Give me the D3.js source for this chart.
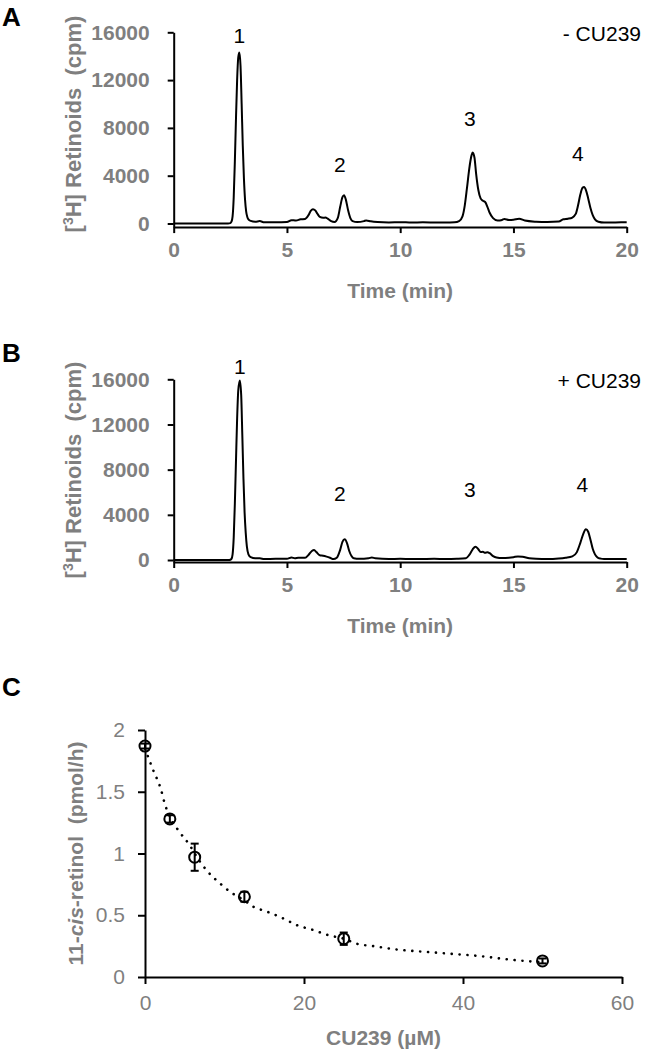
<!DOCTYPE html>
<html><head><meta charset="utf-8">
<script src="https://cdn.jsdelivr.net/npm/d3@7"></script>
<style>
body{margin:0;background:#fff;}
svg{display:block;}
text{font-family:"Liberation Sans",Arial,Helvetica,sans-serif;}
</style></head><body>
<svg id="c" width="646" height="1050"></svg>
<script>
// ---------- Data: panel A (- CU239) ----------
const timeA = [0,0.5,1,1.5,2,2.4,2.5,2.55,2.6,2.65,2.7,2.75,2.8,2.85,2.9,2.95,3.0,3.05,3.1,3.15,3.2,3.25,3.3,3.4,3.6,3.8,4.0,4.5,5.0,5.2,5.4,5.6,5.8,5.95,6.05,6.15,6.25,6.35,6.45,6.6,6.7,6.8,6.95,7.1,7.25,7.35,7.45,7.52,7.6,7.7,7.8,7.9,8.1,8.4,8.5,8.7,9.0,9.5,10,10.5,11,11.5,12,12.4,12.6,12.75,12.85,12.95,13.05,13.15,13.2,13.28,13.35,13.45,13.55,13.65,13.75,13.85,13.95,14.1,14.3,14.5,14.6,14.8,15.0,15.25,15.5,16,16.5,17,17.2,17.4,17.6,17.75,17.85,17.95,18.05,18.12,18.2,18.3,18.4,18.5,18.6,18.75,19,19.5,20];
const cpmA  = [0,0,0,0,0,0,30,150,600,2200,5200,8800,12000,13900,14300,13200,10000,6500,3800,2000,1000,550,350,220,150,200,100,100,120,280,250,350,380,700,1050,1200,1100,800,550,480,500,400,200,130,500,1400,2200,2370,2000,1100,450,200,120,200,260,180,120,90,110,80,100,90,80,100,200,600,1500,3000,4600,5700,5940,5500,4200,2800,2100,1900,1800,1400,900,450,250,300,380,300,320,400,250,150,120,160,350,400,500,800,1500,2400,3000,3060,2800,2100,1300,700,350,150,80,90,100];
// ---------- Data: panel B (+ CU239) ----------
const timeB = [0,0.5,1,1.5,2,2.45,2.5,2.55,2.6,2.65,2.7,2.75,2.8,2.85,2.92,2.98,3.03,3.08,3.13,3.18,3.23,3.3,3.4,3.6,3.8,4.0,4.5,5.0,5.2,5.35,5.5,5.8,5.95,6.1,6.2,6.3,6.45,6.6,6.75,6.9,7.05,7.2,7.35,7.45,7.55,7.65,7.75,7.85,7.95,8.2,8.6,8.75,8.9,9.5,10,10.5,11,11.5,12,12.5,12.9,13.05,13.2,13.32,13.45,13.55,13.65,13.75,13.85,13.95,14.1,14.25,14.5,14.8,15.0,15.2,15.4,15.7,16,16.5,17,17.3,17.6,17.8,17.95,18.08,18.2,18.3,18.4,18.5,18.6,18.7,18.85,19,19.5,20];
const cpmB  = [0,0,0,0,0,0,20,100,500,2000,5000,8800,12500,15000,15900,14600,11000,7200,4200,2400,1200,500,250,150,150,80,100,100,220,150,200,200,450,800,880,700,420,380,300,200,80,200,900,1600,1830,1500,800,350,150,100,150,230,150,80,100,80,90,100,80,100,150,450,950,1180,950,700,720,650,680,600,350,220,170,200,250,320,280,150,100,80,130,200,320,700,1500,2300,2720,2500,1800,1000,500,250,120,80,90,80];
// ---------- Axis ticks & labels ----------
const timeTicks = [0,5,10,15,20];
const cpmTicks = [0,4000,8000,12000,16000];
const peakNames = ["1","2","3","4"];
const peakLabelTimeA = [2.9,7.34,13.08,17.84];
const peakLabelCpmA  = [15770,4980,8800,5870];
const peakLabelTimeB = [2.92,7.34,13.08,18.04];
const peakLabelCpmB  = [17115,5905,6260,6700];
const conditionLabels = ["- CU239","+ CU239"];
// ---------- Data: panel C ----------
const conc = [0,3.125,6.25,12.5,25,50];
const rate = [1.87,1.28,0.97,0.65,0.31,0.13];
const rateErr = [0.02,0.03,0.11,0.04,0.05,0.02];
const fitConc = [0,1,2,2.5,3.1,4.4,5.7,6.25,7.8,9.4,10.7,12.5,13.6,15.3,17.2,19.1,21.2,23,25,26.6,28.7,32,35,38,42,46,50];
const fitRate = [1.85,1.68,1.52,1.40,1.30,1.17,1.06,1.00,0.86,0.76,0.69,0.62,0.57,0.53,0.48,0.42,0.38,0.34,0.31,0.27,0.25,0.22,0.205,0.19,0.17,0.14,0.12];
const concTicks = [0,20,40,60];
const rateTicks = [0,0.5,1,1.5,2];

const GRAY = "#7f7f7f";
const svg = d3.select("#c");

function styleAxis(g, bold, size){
  g.selectAll(".domain").attr("stroke","#000").attr("stroke-width",2);
  g.selectAll(".tick line").attr("stroke","#000").attr("stroke-width",2);
  g.selectAll(".tick text").attr("fill",GRAY).attr("font-size",size)
   .attr("font-weight",bold?"bold":"normal")
   .attr("font-family","'Liberation Sans',Arial,sans-serif");
}

function chromPanel(opt){
  const x = d3.scaleLinear().domain([0,20]).range([173.7,626.7]);
  const y = d3.scaleLinear().domain([0,16000]).range([opt.y0,opt.y16]);
  const axisY = y(opt.axisCpm);
  const g = svg.append("g");
  // y axis
  const ya = g.append("g").attr("transform",`translate(${x(0)},0)`)
    .call(d3.axisLeft(y.copy().domain([opt.axisCpm,16000]).range([axisY,y(16000)]))
      .tickValues(cpmTicks).tickSize(6).tickSizeOuter(0).tickPadding(18).tickFormat(d3.format("d")));
  styleAxis(ya,true,21);
  // x axis
  const xa = g.append("g").attr("transform",`translate(0,${axisY})`)
    .call(d3.axisBottom(x).tickValues(timeTicks).tickSize(6).tickSizeOuter(0).tickPadding(9));
  styleAxis(xa,true,21);
  // trace
  const line = d3.line().x(d=>x(d[0])).y(d=>y(d[1])).curve(d3.curveMonotoneX);
  g.append("path").datum(opt.t.map((t,i)=>[t,opt.v[i]]))
    .attr("d",line).attr("fill","none").attr("stroke","#000").attr("stroke-width",2).attr("stroke-linejoin","round");
  // peak labels
  g.selectAll("text.pk").data(peakNames).join("text").attr("class","pk")
    .attr("x",(d,i)=>x(opt.lt[i])).attr("y",(d,i)=>y(opt.lc[i])).attr("dy","0.36em")
    .attr("text-anchor","middle").attr("font-size",21).attr("fill","#000").text(d=>d);
  // condition label
  g.append("text").attr("x",641).attr("y",opt.condY).attr("dy","0.36em")
    .attr("text-anchor","end").attr("font-size",21).attr("fill","#000").text(opt.cond);
  // axis titles
  g.append("text").attr("x",(x(0)+x(20))/2).attr("y",opt.titleY).attr("dy","0.36em")
    .attr("text-anchor","middle").attr("font-size",21).attr("font-weight","bold").attr("fill",GRAY).text("Time (min)");
  const yt = g.append("text").attr("transform",`translate(81,${opt.ytitleY}) rotate(-90)`)
    .attr("text-anchor","middle").attr("font-size",22).attr("font-weight","bold").attr("fill",GRAY);
  yt.append("tspan").text("[");
  yt.append("tspan").attr("font-size",14).attr("dy",-8).text("3");
  yt.append("tspan").attr("dy",8).text("H] Retinoids\u00a0 (cpm)");
  // panel letter
  svg.append("text").attr("x",2).attr("y",opt.letterY).attr("font-size",26).attr("font-weight","bold").attr("fill","#000").text(opt.letter);
}

chromPanel({t:timeA,v:cpmA,y0:223.5,y16:32.3,axisCpm:-300,lt:peakLabelTimeA,lc:peakLabelCpmA,
  cond:conditionLabels[0],condY:33,titleY:290,ytitleY:124,letter:"A",letterY:26});
chromPanel({t:timeB,v:cpmB,y0:560,y16:379.3,axisCpm:-180,lt:peakLabelTimeB,lc:peakLabelCpmB,
  cond:conditionLabels[1],condY:380,titleY:625,ytitleY:470,letter:"B",letterY:362});

// ---------- Panel C ----------
(function(){
  const x = d3.scaleLinear().domain([0,60]).range([145,622]);
  const y = d3.scaleLinear().domain([0,2]).range([977,730]);
  const g = svg.append("g");
  const ya = g.append("g").attr("transform",`translate(${x(0)},0)`)
    .call(d3.axisLeft(y).tickValues(rateTicks).tickSize(7).tickSizeOuter(0).tickPadding(13).tickFormat(d=>String(d)));
  styleAxis(ya,false,21);
  const xa = g.append("g").attr("transform",`translate(0,${y(0)})`)
    .call(d3.axisBottom(x).tickValues(concTicks).tickSize(7).tickSizeOuter(0).tickPadding(11));
  styleAxis(xa,false,21);
  // fit curve (dotted)
  const line = d3.line().x(d=>x(d[0])).y(d=>y(d[1])).curve(d3.curveMonotoneX);
  g.append("path").datum(fitConc.map((c,i)=>[c,fitRate[i]])).attr("d",line)
    .attr("fill","none").attr("stroke","#000").attr("stroke-width",2.6)
    .attr("stroke-linecap","round").attr("stroke-dasharray","0.1,7.8");
  // error bars
  const pts = conc.map((c,i)=>({c,r:rate[i],e:rateErr[i]}));
  const eb = g.selectAll("g.eb").data(pts).join("g").attr("class","eb")
    .attr("stroke","#000").attr("stroke-width",2);
  eb.append("line").attr("x1",d=>x(d.c)).attr("x2",d=>x(d.c)).attr("y1",d=>y(d.r+d.e)).attr("y2",d=>y(d.r-d.e));
  eb.append("line").attr("x1",d=>x(d.c)-4).attr("x2",d=>x(d.c)+4).attr("y1",d=>y(d.r+d.e)).attr("y2",d=>y(d.r+d.e));
  eb.append("line").attr("x1",d=>x(d.c)-4).attr("x2",d=>x(d.c)+4).attr("y1",d=>y(d.r-d.e)).attr("y2",d=>y(d.r-d.e));
  g.selectAll("circle.pt").data(pts).join("circle").attr("class","pt")
    .attr("cx",d=>x(d.c)).attr("cy",d=>y(d.r)).attr("r",5.5)
    .attr("fill","none").attr("stroke","#000").attr("stroke-width",2);
  // titles
  g.append("text").attr("x",(x(0)+x(60))/2).attr("y",1037).attr("dy","0.36em")
    .attr("text-anchor","middle").attr("font-size",21).attr("font-weight","bold").attr("fill",GRAY).text("CU239 (\u00b5M)");
  const yt = g.append("text").attr("transform",`translate(83,${(y(0)+y(2))/2}) rotate(-90)`)
    .attr("text-anchor","middle").attr("font-size",21).attr("font-weight","bold").attr("fill",GRAY);
  yt.append("tspan").text("11-");
  yt.append("tspan").attr("font-style","italic").text("cis");
  yt.append("tspan").text("-retinol\u00a0 (pmol/h)");
  svg.append("text").attr("x",2).attr("y",696).attr("font-size",26).attr("font-weight","bold").attr("fill","#000").text("C");
})();
</script>
</body></html>
